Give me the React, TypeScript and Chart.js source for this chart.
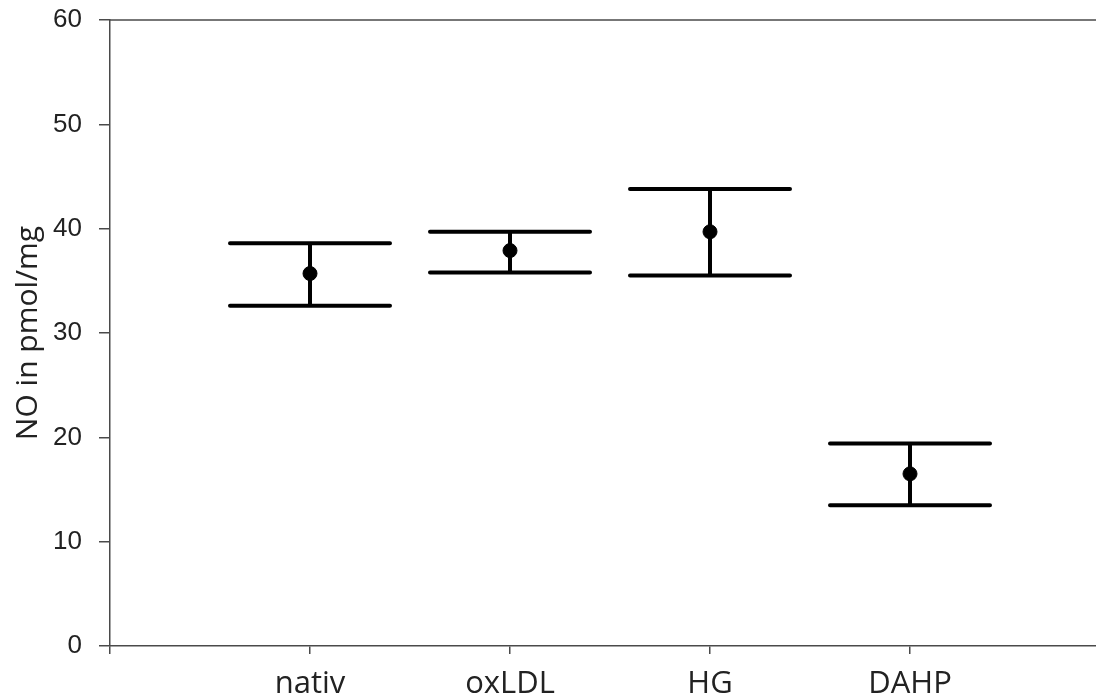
import React, { useEffect, useRef } from "react";
import { Chart, registerables } from "chart.js";

Chart.register(...registerables);

const categories = ["nativ", "oxLDL", "HG", "DAHP"];
const means = [35.7, 37.9, 39.7, 16.5];
const upperValues = [38.6, 39.7, 43.8, 19.4];
const lowerValues = [32.6, 35.8, 35.5, 13.5];
const yTicks = [0, 10, 20, 30, 40, 50, 60];
const xTickPositions = [0, 1, 2, 3, 4];

const CAP_HALF = 0.4;
const AXIS_COLOR = "#4a4a4a";

const errorBarPlugin = {
  id: "errorBars",
  beforeDatasetsDraw(chart: any) {
    const { ctx, scales, chartArea } = chart;
    const xs = scales.x;
    const ys = scales.y;
    ctx.save();
    // top frame line
    ctx.strokeStyle = AXIS_COLOR;
    ctx.lineWidth = 1.5;
    ctx.beginPath();
    ctx.moveTo(chartArea.left, chartArea.top);
    ctx.lineTo(chartArea.right, chartArea.top);
    ctx.stroke();

    ctx.strokeStyle = "#000";
    ctx.lineWidth = 4;
    ctx.lineCap = "round";
    categories.forEach((_, i) => {
      const xv = i + 1;
      const x = xs.getPixelForValue(xv);
      const xl = xs.getPixelForValue(xv - CAP_HALF);
      const xr = xs.getPixelForValue(xv + CAP_HALF);
      const yu = ys.getPixelForValue(upperValues[i]);
      const yl = ys.getPixelForValue(lowerValues[i]);
      ctx.beginPath();
      ctx.moveTo(x, yu);
      ctx.lineTo(x, yl);
      ctx.moveTo(xl, yu);
      ctx.lineTo(xr, yu);
      ctx.moveTo(xl, yl);
      ctx.lineTo(xr, yl);
      ctx.stroke();
    });
    ctx.restore();
  },
};

export default function App() {
  const ref = useRef<HTMLCanvasElement | null>(null);

  useEffect(() => {
    if (!ref.current) return;
    const chart = new Chart(ref.current, {
      type: "scatter",
      data: {
        datasets: [
          {
            data: means.map((m, i) => ({ x: i + 1, y: m })),
            backgroundColor: "#000",
            borderColor: "#000",
            pointRadius: 7,
            pointHoverRadius: 7,
          },
        ],
      },
      options: {
        animation: false,
        responsive: false,
        events: [],
        layout: { autoPadding: false, padding: { top: 20, left: 0, right: 0, bottom: 0 } },
        plugins: { legend: { display: false }, tooltip: { enabled: false } },
        scales: {
          x: {
            type: "linear",
            min: 0,
            max: 4.93,
            afterBuildTicks: (s: any) => {
              s.ticks = xTickPositions.map((v) => ({ value: v }));
            },
            afterFit: (s: any) => {
              s.height = 51;
              s.paddingLeft = 0;
              s.paddingRight = 0;
            },
            ticks: {
              autoSkip: false,
              maxRotation: 0,
              padding: 12,
              color: "#222",
              font: { family: "'Open Sans'", size: 31 },
              callback: (v: any) => {
                const idx = Number(v) - 1;
                return Number.isInteger(Number(v)) && idx >= 0 && idx < categories.length
                  ? categories[idx]
                  : "";
              },
            },
            grid: {
              drawOnChartArea: false,
              drawTicks: true,
              tickLength: 8,
              color: AXIS_COLOR,
              lineWidth: 1.5,
            },
            border: { display: true, color: AXIS_COLOR, width: 1.5 },
          },
          y: {
            min: 0,
            max: 60,
            afterBuildTicks: (s: any) => {
              s.ticks = yTicks.map((v) => ({ value: v }));
            },
            afterFit: (s: any) => {
              s.width = 110;
              s.paddingTop = 0;
              s.paddingBottom = 0;
            },
            title: {
              display: true,
              text: "NO in pmol/mg",
              color: "#222",
              font: { family: "'Open Sans'", size: 30 },
              padding: { top: 10, bottom: 0 },
            },
            ticks: {
              padding: 17,
              color: "#222",
              font: { family: "'Liberation Sans'", size: 26 },
            },
            grid: {
              drawOnChartArea: false,
              drawTicks: true,
              tickLength: 11,
              color: AXIS_COLOR,
              lineWidth: 1.5,
            },
            border: { display: true, color: AXIS_COLOR, width: 1.5 },
          },
        },
      },
      plugins: [errorBarPlugin],
    });
    return () => chart.destroy();
  }, []);

  return (
    <div style={{ position: "fixed", left: 0, top: 0, width: 1096, height: 697, background: "#fff", overflow: "hidden" }}>
      <canvas ref={ref} width={1096} height={697} style={{ display: "block" }} />
    </div>
  );
}
